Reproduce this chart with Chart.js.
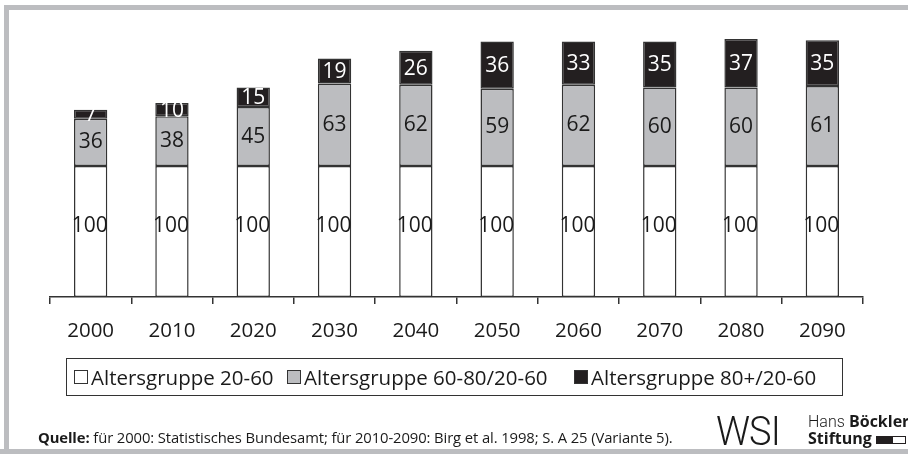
<!DOCTYPE html>
<html>
<head>
<meta charset="utf-8">
<script src="https://cdn.jsdelivr.net/npm/chart.js@4.4.1/dist/chart.umd.min.js"></script>
<style>
  body { margin: 0; background: #fff; font-family: "Open Sans", sans-serif; color: #1a1a1a; }
  #wrap { position: relative; width: 908px; height: 454px; overflow: hidden; background: #fff; }
  .frame { position: absolute; background: #bcbdc0; }
  #frameTop { left: 4px; top: 5px; width: 904px; height: 5px; }
  #frameLeft { left: 4px; top: 5px; width: 5px; height: 449px; }
  #frameBottom { left: 0; top: 449px; width: 908px; height: 5px; }
  #chartBox { position: absolute; left: 0; top: 0; width: 908px; height: 454px; }
  #legend { position: absolute; left: 66px; top: 358px; width: 777px; height: 38px;
            border: 1px solid #333; box-sizing: border-box; font-size: 20.5px; }
  .item { position: absolute; top: 0; height: 36px; display: flex; align-items: center; white-space: nowrap; }
  .swatch { width: 14px; height: 14px; border: 1px solid #333; box-sizing: border-box; margin-right: 3px; }
  #source { position: absolute; left: 38px; top: 427px; font-size: 14.8px; white-space: nowrap; letter-spacing: -0.1px; }
  #wsi { position: absolute; left: 716px; top: 408px; font-family: Roboto, sans-serif;
         font-weight: 300; font-size: 40px; letter-spacing: -1px; transform: scaleX(0.95); transform-origin: left; }
  #hbs { position: absolute; left: 808px; top: 413px; font-size: 16px; line-height: 17px; white-space: nowrap; }
  #hbs .light { font-family: Roboto, sans-serif; font-weight: 300; }
  #hbs b { font-weight: 700; }
  .logoBar { display: inline-block; width: 16px; height: 8px; background: #231f20; vertical-align: middle; margin-left: 4px; }
  .logoBox { display: inline-block; width: 14px; height: 8px; border: 1px solid #231f20; box-sizing: border-box; vertical-align: middle; }
</style>
</head>
<body>
<div id="wrap">
  <div class="frame" id="frameTop"></div>
  <div class="frame" id="frameLeft"></div>
  <div class="frame" id="frameBottom"></div>
  <div id="chartBox"><canvas id="myChart"></canvas></div>
  <div id="legend"></div>
  <div id="source"><b>Quelle:</b> für 2000: Statistisches Bundesamt; für 2010-2090: Birg et al. 1998; S. A 25 (Variante 5).</div>
  <div id="wsi">WSI</div>
  <div id="hbs"><span class="light">Hans</span> <b>Böckler</b><br><b>Stiftung</b><span class="logoBar"></span><span class="logoBox"></span></div>
</div>
<script>
const years = ['2000', '2010', '2020', '2030', '2040', '2050', '2060', '2070', '2080', '2090'];
const group2060 = [100, 100, 100, 100, 100, 100, 100, 100, 100, 100];
const group6080 = [36, 38, 45, 63, 62, 59, 62, 60, 60, 61];
const group80 = [7, 10, 15, 19, 26, 36, 33, 35, 37, 35];
const seriesNames = ['Altersgruppe 20-60', 'Altersgruppe 60-80/20-60', 'Altersgruppe 80+/20-60'];

// legend item offsets inside the box
const legendLefts = [7, 220, 507];

// write the value in the middle of each bar segment
const barLabels = {
    id: 'barLabels',
    afterDatasetsDraw(chart) {
        const ctx = chart.ctx;
        ctx.save();
        ctx.font = '21px "Open Sans"';
        ctx.textAlign = 'center';
        ctx.textBaseline = 'middle';
        chart.data.datasets.forEach((ds, i) => {
            chart.getDatasetMeta(i).data.forEach((bar, j) => {
                const p = bar.getProps(['x', 'y', 'base'], true);
                ctx.fillStyle = ds.labelColor;
                ctx.fillText(ds.data[j], p.x + ds.labelDx, (p.y + p.base) / 2 + ds.labelDy);
            });
        });
        ctx.restore();
    }
};

const ctx = document.getElementById('myChart');
const myChart = new Chart(ctx, {
    type: 'bar',
    data: {
        labels: years,
        datasets: [
            {label: seriesNames[0], data: group2060, backgroundColor: '#ffffff', labelColor: '#1a1a1a', labelDx: -1, labelDy: -5},
            {label: seriesNames[1], data: group6080, backgroundColor: '#bcbdc0', labelColor: '#1a1a1a', labelDx: 0, labelDy: 0},
            {label: seriesNames[2], data: group80, backgroundColor: '#231f20', labelColor: '#ffffff', labelDx: 0, labelDy: 1}
        ]
    },
    options: {
        responsive: true,
        maintainAspectRatio: false,
        animation: false,
        layout: {padding: {left: 50, right: 45, top: 35, bottom: 97}},
        datasets: {
            bar: {
                barPercentage: 0.41,
                categoryPercentage: 1,
                borderColor: '#333333',
                borderWidth: 1.5,
                borderSkipped: false
            }
        },
        plugins: {
            legend: {display: false},
            tooltip: {enabled: false}
        },
        scales: {
            x: {
                stacked: true,
                grid: {offset: true, drawOnChartArea: false, drawTicks: true, tickLength: 7, color: '#333333', lineWidth: 1.5},
                border: {display: true, color: '#333333', width: 1.5},
                ticks: {color: '#1a1a1a', font: {size: 20.5, family: 'Open Sans'}, padding: 15},
                afterFit: scale => { scale.height = 60; }
            },
            y: {
                stacked: true,
                display: false,
                min: 0,
                max: 200
            }
        }
    },
    plugins: [barLabels]
});

// html legend from the chart datasets
const legendDiv = document.getElementById('legend');
myChart.data.datasets.forEach((ds, i) => {
    const item = document.createElement('div');
    item.className = 'item';
    item.style.left = legendLefts[i] + 'px';
    item.innerHTML = '<span class="swatch" style="background:' + ds.backgroundColor + '"></span>' + ds.label;
    legendDiv.appendChild(item);
});
</script>
</body>
</html>
